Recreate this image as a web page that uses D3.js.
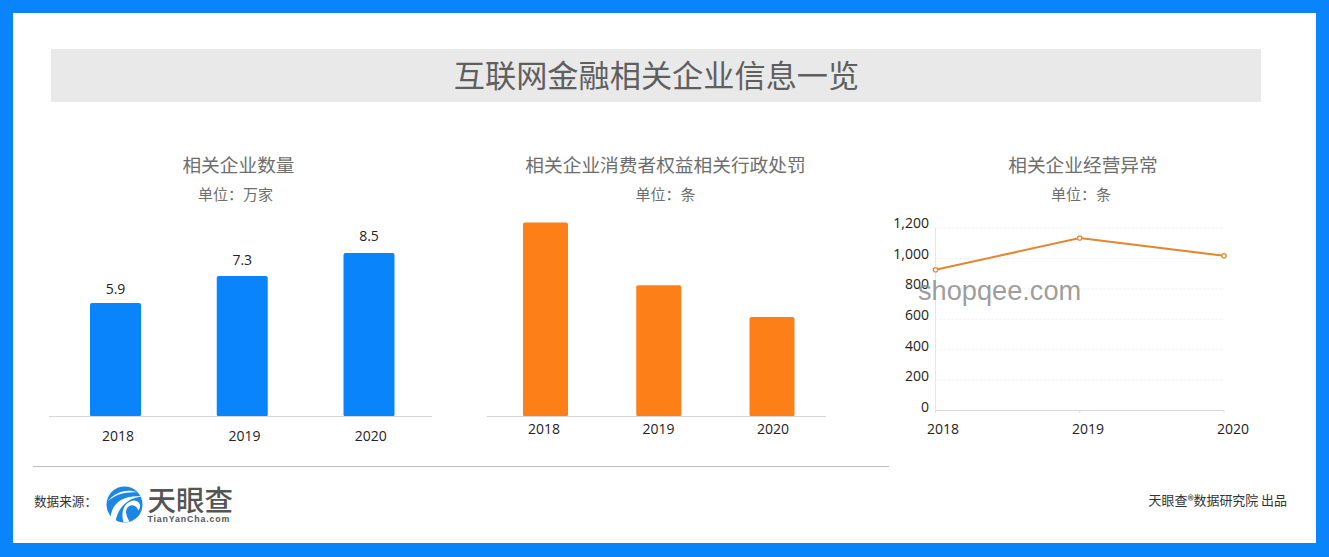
<!DOCTYPE html>
<html>
<head>
<meta charset="utf-8">
<script src="https://cdn.jsdelivr.net/npm/d3@7"></script>
<style>
  html, body { margin: 0; padding: 0; background: #fff; }
  svg { display: block; }
  text { font-family: "Noto Sans CJK SC", "Open Sans", sans-serif; }
  .num { font-family: "Open Sans", "Noto Sans", sans-serif; }
</style>
</head>
<body>
<div id="chart"></div>
<script>
const years = ["2018", "2019", "2020"]
const companyCounts = [5.9, 7.3, 8.5]
// the middle chart has no readable labels
const penalties = [195, 132, 100]
const anomalies = [925, 1134, 1017]
const anomalyTicks = [0, 200, 400, 600, 800, 1000, 1200]

const mainTitle = "互联网金融相关企业信息一览"
const chartTitles = ["相关企业数量", "相关企业消费者权益相关行政处罚", "相关企业经营异常"]
const chartUnits = ["单位：万家", "单位：条", "单位：条"]

const width = 1329, height = 557
const BLUE = "#0a84fb", ORANGE = "#fd7f17", LINE = "#e5852f"

const svg = d3.select("#chart").append("svg").attr("width", width).attr("height", height)

// frame
svg.append("rect").attr("width", width).attr("height", height).attr("fill", BLUE)
svg.append("rect").attr("x", 13).attr("y", 13).attr("width", 1303).attr("height", 530).attr("fill", "#fff")

// title band
svg.append("rect").attr("x", 51).attr("y", 49).attr("width", 1210).attr("height", 53).attr("fill", "#e9e9e9")
svg.append("text").attr("x", 656.5).attr("y", 87).attr("text-anchor", "middle")
  .style("font-size", "31.2px").attr("fill", "#5f5f5f").text(mainTitle)

function heading(i, titleX, unitX) {
  svg.append("text").attr("x", titleX).attr("y", 171.5).attr("text-anchor", "middle")
    .style("font-size", "18.7px").attr("fill", "#6e6e6e").text(chartTitles[i])
  svg.append("text").attr("x", unitX).attr("y", 200).attr("text-anchor", "middle")
    .style("font-size", "15px").attr("fill", "#6e6e6e").text(chartUnits[i])
}

function yearLabels(x, y) {
  svg.append("g").selectAll("text").data(years).enter().append("text")
    .attr("class", "num")
    .attr("x", d => x(d))
    .attr("y", y)
    .attr("text-anchor", "middle")
    .style("font-size", "14px")
    .attr("fill", "#222")
    .text(d => d)
}

function barChart(values, opts) {
  const x = d3.scalePoint().domain(years).range(opts.xRange)
  const xLabel = d3.scalePoint().domain(years).range(opts.labelRange)
  const y = d3.scaleLinear().domain([0, opts.yMax]).range([opts.base, opts.top])

  svg.append("g").selectAll("rect").data(values).enter().append("rect")
    .attr("x", (d, i) => x(years[i]) - opts.barWidth / 2)
    .attr("y", d => y(d))
    .attr("width", opts.barWidth)
    .attr("height", d => opts.base - y(d))
    .attr("rx", 2)
    .attr("fill", opts.color)

  svg.append("line")
    .attr("x1", opts.axis[0]).attr("x2", opts.axis[1])
    .attr("y1", opts.base).attr("y2", opts.base)
    .attr("stroke", "#d4d4d4")

  if (opts.valueTop) {
    const yValue = d3.scaleLinear().domain([0, opts.yMax]).range([416, opts.valueTop])
    svg.append("g").selectAll("text").data(values).enter().append("text")
      .attr("class", "num")
      .attr("x", (d, i) => x(years[i]))
      .attr("y", d => yValue(d))
      .attr("text-anchor", "middle")
      .style("font-size", "14px")
      .attr("fill", "#222")
      .text(d => d3.format(".1f")(d))
  }
  yearLabels(xLabel, opts.labelY)
}

heading(0, 238.5, 235.5)
barChart(companyCounts, {
  xRange: [115.5, 369], labelRange: [118, 370.8], yMax: 8.5, base: 416.5, top: 253, barWidth: 51,
  color: BLUE, axis: [49, 432], valueTop: 240.7, labelY: 441
})

heading(1, 665.5, 665.5)
barChart(penalties, {
  xRange: [545.5, 772], labelRange: [544, 773], yMax: 195, base: 416.5, top: 222.5, barWidth: 45,
  color: ORANGE, axis: [487, 826], labelY: 434
})

// line chart
heading(2, 1083, 1081)
const lx = d3.scalePoint().domain(years).range([935.5, 1224])
const lxLabel = d3.scalePoint().domain(years).range([943, 1233])
const ly = d3.scaleLinear().domain([0, 1200]).range([410.5, 228])
const lyLabel = d3.scaleLinear().domain([0, 1200]).range([412, 228])

svg.append("g").selectAll("line").data(anomalyTicks.filter(d => d > 0)).enter().append("line")
  .attr("x1", 935.5).attr("x2", 1224)
  .attr("y1", d => ly(d)).attr("y2", d => ly(d))
  .attr("stroke", "#eeeeee").attr("stroke-dasharray", "2,2")

svg.append("line").attr("x1", 935.5).attr("x2", 1224).attr("y1", ly(0)).attr("y2", ly(0)).attr("stroke", "#d9d9d9")
svg.append("line").attr("x1", 935.5).attr("x2", 935.5).attr("y1", ly(1200)).attr("y2", ly(0)).attr("stroke", "#e6e6e6")
svg.append("g").selectAll("line").data(years).enter().append("line")
  .attr("x1", d => lx(d)).attr("x2", d => lx(d))
  .attr("y1", ly(0)).attr("y2", ly(0) + 2)
  .attr("stroke", "#d9d9d9")

svg.append("g").selectAll("text").data(anomalyTicks).enter().append("text")
  .attr("class", "num")
  .attr("x", 929)
  .attr("y", d => lyLabel(d))
  .attr("text-anchor", "end")
  .style("font-size", "14px")
  .attr("fill", "#222")
  .text(d => d3.format(",")(d))

const path = d3.line().x((d, i) => lx(years[i])).y(d => ly(d))
svg.append("path").attr("d", path(anomalies)).attr("fill", "none").attr("stroke", LINE).attr("stroke-width", 2)
svg.append("g").selectAll("circle").data(anomalies).enter().append("circle")
  .attr("cx", (d, i) => lx(years[i]))
  .attr("cy", d => ly(d))
  .attr("r", 2.2)
  .attr("fill", "#fff")
  .attr("stroke", LINE)
  .attr("stroke-width", 1.2)

yearLabels(lxLabel, 434)

// watermark
svg.append("text").attr("x", 918).attr("y", 300)
  .style("font-family", "'Liberation Sans', sans-serif").style("font-size", "27.2px")
  .attr("fill", "#8c8c8c").attr("fill-opacity", 0.85).text("shopqee.com")

// footer
svg.append("line").attr("x1", 33).attr("x2", 889).attr("y1", 466.5).attr("y2", 466.5).attr("stroke", "#bdbdbd")
svg.append("text").attr("x", 34).attr("y", 506).style("font-size", "12.6px").attr("fill", "#333").text("数据来源：")
svg.append("text").attr("x", 1287).attr("y", 505).attr("text-anchor", "end")
  .style("font-size", "12.95px").attr("fill", "#333").text("天眼查®数据研究院 出品")

// logo
const logo = svg.append("g").attr("transform", "translate(124.5,504.5)")
logo.append("circle").attr("r", 18).attr("fill", "#1a87e6")
logo.append("path").attr("d", "M-14,15 C-14,1 -4,-10 18,-8 C5,-7 -6,1 -9,17 Z").attr("fill", "#fff")
logo.append("path").attr("d", "M-17,-3 C-9,-13 3,-16 13,-12 C1,-13 -9,-10 -17,-3 Z").attr("fill", "#fff")
logo.append("path").attr("d", "M-1,18 C-4,8 -1,-3 10,-4 C16,-3 17,2 14,6 C12,1 7,-1 3,3 C0,7 2,12 5,17 Z").attr("fill", "#fff")
svg.append("text").attr("x", 147.5).attr("y", 511)
  .style("font-size", "28.5px").style("font-weight", 500).attr("fill", "#555").text("天眼查")
svg.append("text").attr("x", 147.5).attr("y", 522)
  .style("font-family", "'Liberation Sans', sans-serif").style("font-size", "8.8px").style("font-weight", 700)
  .style("letter-spacing", "0.85px").attr("fill", "#555").text("TianYanCha.com")
</script>
</body>
</html>
